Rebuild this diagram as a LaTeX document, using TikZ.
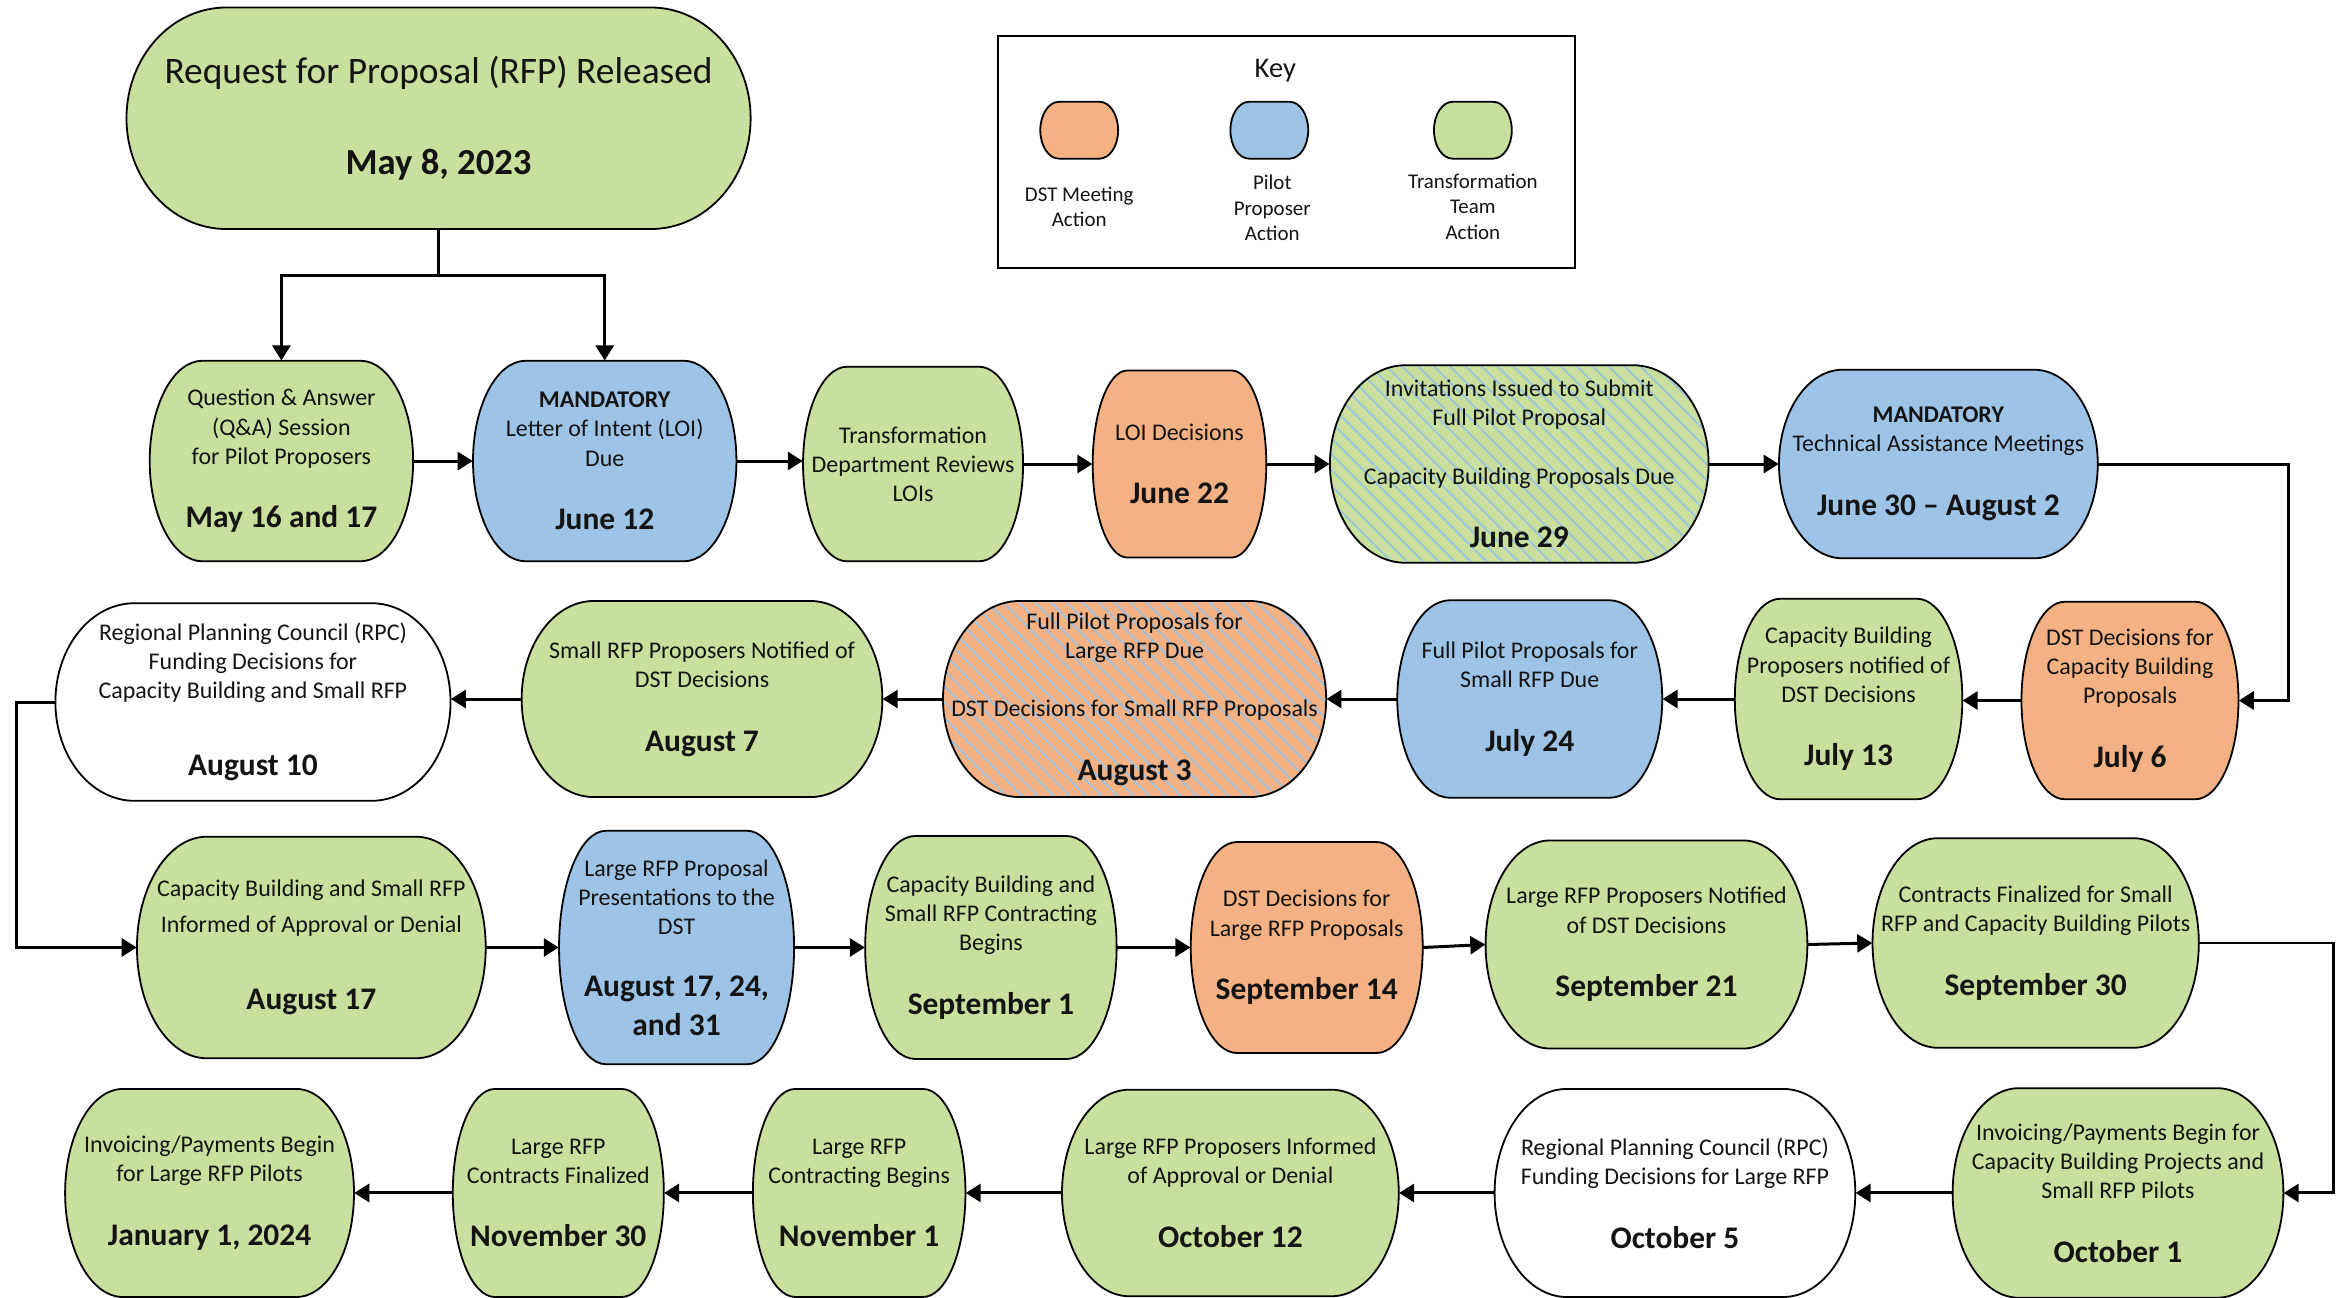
\documentclass[tikz,border=0pt]{standalone}
\usepackage{fontspec}
\setmainfont{Carlito}
\usetikzlibrary{arrows.meta,patterns.meta}
\definecolor{pgreen}{HTML}{C8DF9D}
\definecolor{porange}{HTML}{F4B183}
\definecolor{pblue}{HTML}{9DC3E6}
\definecolor{stripeblue}{HTML}{9CC2E5}
\definecolor{txt}{HTML}{141414}
\newcommand\dfont{\bfseries\fontsize{21}{25}\selectfont}
\newcommand\dl[1]{\\[23pt]{\dfont #1}}
\def\pillrx{0.2}
\newcommand\pill[7][]{%
  \pgfmathsetmacro\pxa{#3-#5/2}\pgfmathsetmacro\pxb{#3+#5/2}%
  \pgfmathsetmacro\pya{#4-#6/2}\pgfmathsetmacro\pyb{#4+#6/2}%
  \pgfmathsetmacro\prx{\pillrx*#5}\pgfmathsetmacro\pry{0.5*#6}%
  \pgfmathsetmacro\pkx{0.5523*\prx}\pgfmathsetmacro\pky{0.5523*\pry}%
  \path[pillshape,#1] (\pxa+\prx,\pya) -- (\pxb-\prx,\pya)
    .. controls (\pxb-\prx+\pkx,\pya) and (\pxb,\pya+\pry-\pky) .. (\pxb,\pya+\pry)
    -- (\pxb,\pyb-\pry)
    .. controls (\pxb,\pyb-\pry+\pky) and (\pxb-\prx+\pkx,\pyb) .. (\pxb-\prx,\pyb)
    -- (\pxa+\prx,\pyb)
    .. controls (\pxa+\prx-\pkx,\pyb) and (\pxa,\pyb-\pry+\pky) .. (\pxa,\pyb-\pry)
    -- (\pxa,\pya+\pry)
    .. controls (\pxa,\pya+\pry-\pky) and (\pxa+\prx-\pkx,\pya) .. (\pxa+\prx,\pya) -- cycle;
  \node[pilltxt, minimum width=#5, minimum height=#6] (#2) at (#3,#4) {#7};%
}
\tikzset{
  pillshape/.style={draw=black, line width=1.2pt},
  gfill/.style={fill=pgreen},
  ofill/.style={fill=porange},
  bfill/.style={fill=pblue},
  wfill/.style={fill=white},
  sgreen/.style={preaction={fill=pgreen}, pattern={Lines[angle=-45,distance=7.5pt,line width=1.1pt]}, pattern color=stripeblue},
  sorange/.style={preaction={fill=porange}, pattern={Lines[angle=-45,distance=7.5pt,line width=1.1pt]}, pattern color=stripeblue},
  pilltxt/.style={inner sep=0pt, align=center, text=txt, font=\fontsize{16}{19.5}\selectfont},
  keytxt/.style={inner sep=0pt, align=center, text=txt, font=\fontsize{14}{17}\selectfont},
  conn/.style={line width=2pt, line join=miter, -{Triangle[length=10pt,width=12pt]}},
}
\begin{document}
\begin{tikzpicture}[x=1pt,y=-1pt]
\useasboundingbox (0,0) rectangle (1568,867);
% ---- top node
\def\pillrx{0.16}
\pill[gfill]{rfp}{293}{79}{417}{148}{{\fontsize{25}{29}\selectfont Request for Proposal (RFP) Released}\\[39pt]{\bfseries\fontsize{24.5}{29}\selectfont May 8, 2023}}
\def\pillrx{0.2}
% ---- key
\node[draw=black, line width=1.2pt, minimum width=385, minimum height=155, inner sep=0pt] (key) at (859.5,101.5) {};
\node[inner sep=0pt, text=txt, font=\fontsize{19}{22}\selectfont] (keyt) at (852,47) {Key};
\def\pillrx{0.24}
\pill[ofill]{k1}{721}{87}{52}{38}{}
\pill[bfill]{k2}{848}{87}{52}{38}{}
\pill[gfill]{k3}{984}{87}{52}{38}{}
\def\pillrx{0.2}
\node[keytxt] (k1l) at (721,138) {DST Meeting\\Action};
\node[keytxt] (k2l) at (850,139) {Pilot\\Proposer\\Action};
\node[keytxt] (k3l) at (984,138) {Transformation\\Team\\Action};
% ---- row 1
\pill[gfill]{qa}{188}{308}{176}{134}{Question \& Answer\\(Q\&A) Session\\for Pilot Proposers\dl{May 16 and 17}}
\pill[bfill]{loi}{404}{308}{176}{134}{\textbf{MANDATORY}\\Letter of Intent (LOI)\\Due\dl{June 12}}
\pill[gfill]{tdr}{610}{310}{147}{130}{Transformation\\Department Reviews\\LOIs}
\pill[ofill]{loid}{788}{310}{116}{125}{LOI Decisions\dl{June 22}}
\pill[sgreen]{j29}{1015}{310}{253}{132}{Invitations Issued to Submit\\Full Pilot Proposal\\[19.5pt]Capacity Building Proposals Due\dl{June 29}}
\pill[bfill]{tam}{1295}{310}{213}{126}{\textbf{MANDATORY}\\Technical Assistance Meetings\dl{June 30 – August 2}}
% ---- row 2
\pill[ofill]{j6}{1423}{468}{145}{132}{DST Decisions for\\Capacity Building\\Proposals\dl{July 6}}
\pill[gfill]{j13}{1235}{467}{152}{134}{Capacity Building\\Proposers notified of\\DST Decisions\dl{July 13}}
\pill[bfill]{j24}{1022}{467}{177}{132}{Full Pilot Proposals for\\Small RFP Due\dl{July 24}}
\pill[sorange]{a3}{758}{467}{256}{131}{Full Pilot Proposals for\\Large RFP Due\\[19.5pt]DST Decisions for Small RFP Proposals\dl{August 3}}
\pill[gfill]{a7}{469}{467}{241}{131}{Small RFP Proposers Notified of\\DST Decisions\dl{August 7}}
\pill[wfill]{a10}{169}{469}{264}{132}{Regional Planning Council (RPC)\\Funding Decisions for\\Capacity Building and Small RFP\\[32pt]{\dfont August 10}}
% ---- row 3
\pill[gfill]{a17}{208}{633}{233}{148}{Capacity Building and Small RFP\\[4.5pt]Informed of Approval or Denial\\[32pt]{\dfont August 17}}
\pill[bfill]{pres}{452}{633}{157}{156}{Large RFP Proposal\\Presentations to the\\DST\\[22pt]{\dfont August 17, 24,}\\[6pt]{\dfont and 31}}
\pill[gfill]{s1}{662}{633}{168}{149}{Capacity Building and\\Small RFP Contracting\\Begins\dl{September 1}}
\pill[ofill]{s14}{873}{633}{155}{141}{DST Decisions for\\Large RFP Proposals\dl{September 14}}
\pill[gfill]{s21}{1100}{631}{215}{139}{Large RFP Proposers Notified\\of DST Decisions\dl{September 21}}
\pill[gfill]{s30}{1360}{630}{218}{140}{Contracts Finalized for Small\\RFP and Capacity Building Pilots\dl{September 30}}
% ---- row 4
\pill[gfill]{o1}{1415}{797}{221}{140}{Invoicing/Payments Begin for\\Capacity Building Projects and\\Small RFP Pilots\dl{October 1}}
\pill[wfill]{o5}{1119}{797}{241}{139}{Regional Planning Council (RPC)\\Funding Decisions for Large RFP\dl{October 5}}
\pill[gfill]{o12}{822}{797}{225}{138}{Large RFP Proposers Informed\\of Approval or Denial\dl{October 12}}
\pill[gfill]{n1}{574}{797}{142}{139}{Large RFP\\Contracting Begins\dl{November 1}}
\pill[gfill]{n30}{373}{797}{141}{139}{Large RFP\\Contracts Finalized\dl{November 30}}
\pill[gfill]{jan}{140}{797}{193}{139}{Invoicing/Payments Begin\\for Large RFP Pilots\dl{January 1, 2024}}
% ---- connectors
\coordinate (split) at (293,184);
\draw[line width=2pt] (rfp.south) -- (split);
\draw[conn] (split) -| (qa.north);
\draw[conn] (split) -| (loi.north);
\draw[conn] (qa.east) -- (qa.east -| loi.west);
\draw[conn] (loi.east) -- (loi.east -| tdr.west);
\draw[conn] (tdr.east) -- (tdr.east -| loid.west);
\draw[conn] (loid.east) -- (loid.east -| j29.west);
\draw[conn] (j29.east) -- (j29.east -| tam.west);
\coordinate (c1) at (1529,310);
\draw[conn] (tam.east) -- (c1) |- (j6.east);
\draw[conn] (j6.west) -- (j6.west -| j13.east);
\draw[conn] (j13.west) -- (j13.west -| j24.east);
\draw[conn] (j24.west) -- (j24.west -| a3.east);
\draw[conn] (a3.west) -- (a3.west -| a7.east);
\draw[conn] (a7.west) -- (a7.west -| a10.east);
\coordinate (c2) at (11,469);
\draw[conn] (a10.west) -- (c2) |- (a17.west);
\draw[conn] (a17.east) -- (a17.east -| pres.west);
\draw[conn] (pres.east) -- (pres.east -| s1.west);
\draw[conn] (s1.east) -- (s1.east -| s14.west);
\draw[conn] (s14.east) -- (s21.west);
\draw[conn] (s21.east) -- (s30.west);
\coordinate (c3) at (1559,630);
\draw[conn] (s30.east) -- (c3) |- (o1.east);
\draw[conn] (o1.west) -- (o1.west -| o5.east);
\draw[conn] (o5.west) -- (o5.west -| o12.east);
\draw[conn] (o12.west) -- (o12.west -| n1.east);
\draw[conn] (n1.west) -- (n1.west -| n30.east);
\draw[conn] (n30.west) -- (n30.west -| jan.east);
\end{tikzpicture}
\end{document}
